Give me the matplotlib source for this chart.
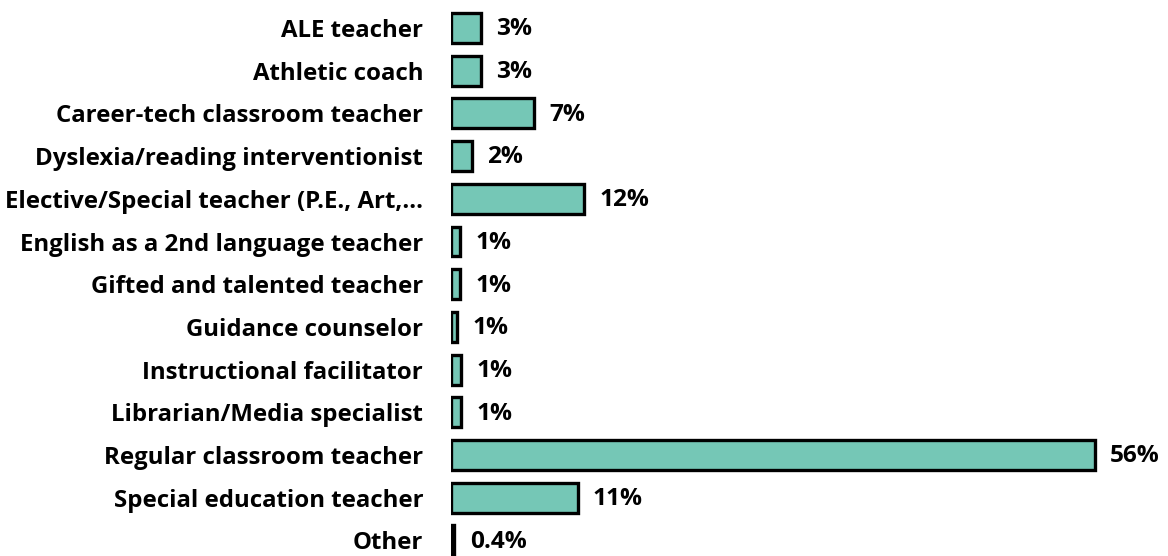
import matplotlib
matplotlib.use("Agg")
import matplotlib.pyplot as plt

categories = [
    "ALE teacher",
    "Athletic coach",
    "Career-tech classroom teacher",
    "Dyslexia/reading interventionist",
    "Elective/Special teacher (P.E., Art,\u2026",
    "English as a 2nd language teacher",
    "Gifted and talented teacher",
    "Guidance counselor",
    "Instructional facilitator",
    "Librarian/Media specialist",
    "Regular classroom teacher",
    "Special education teacher",
    "Other",
]
values = [2.6, 2.6, 7.2, 1.8, 11.6, 0.8, 0.8, 0.5, 0.9, 0.9, 56.0, 11.0, 0.3]
value_labels = ["3%", "3%", "7%", "2%", "12%", "1%", "1%", "1%", "1%", "1%", "56%", "11%", "0.4%"]

plt.rcParams['font.family'] = ['Open Sans', 'DejaVu Sans']

W, H = 1168, 556
fig = plt.figure(figsize=(W / 100, H / 100), dpi=100)
left_px = 451
ax = fig.add_axes([left_px / W, 0, 1 - left_px / W, 1])

px_per_unit = 11.5
ax.set_xlim(0, (W - left_px) / px_per_unit)
pitch = 42.7
y0 = 28.0
ax.set_ylim(12 + (H - (y0 + 12 * pitch)) / pitch, -y0 / pitch)

ypos = list(range(len(categories)))
ax.barh(ypos, values, height=0.7, color="#75C7B6", edgecolor="black", linewidth=2.4)

FS = 17.3
for y, v, lab in zip(ypos, values, value_labels):
    ax.annotate(lab, (v, y), xytext=(11, -1.0), textcoords="offset points",
                ha="left", va="center", fontsize=FS + 0.3, fontweight="bold", color="black")

ax.set_yticks(ypos)
ax.set_yticklabels(categories, fontsize=FS, fontweight="bold")
ax.tick_params(axis="y", length=0, pad=20)
ax.set_xticks([])
for s in ax.spines.values():
    s.set_visible(False)

fig.savefig("out.png", dpi=100)
